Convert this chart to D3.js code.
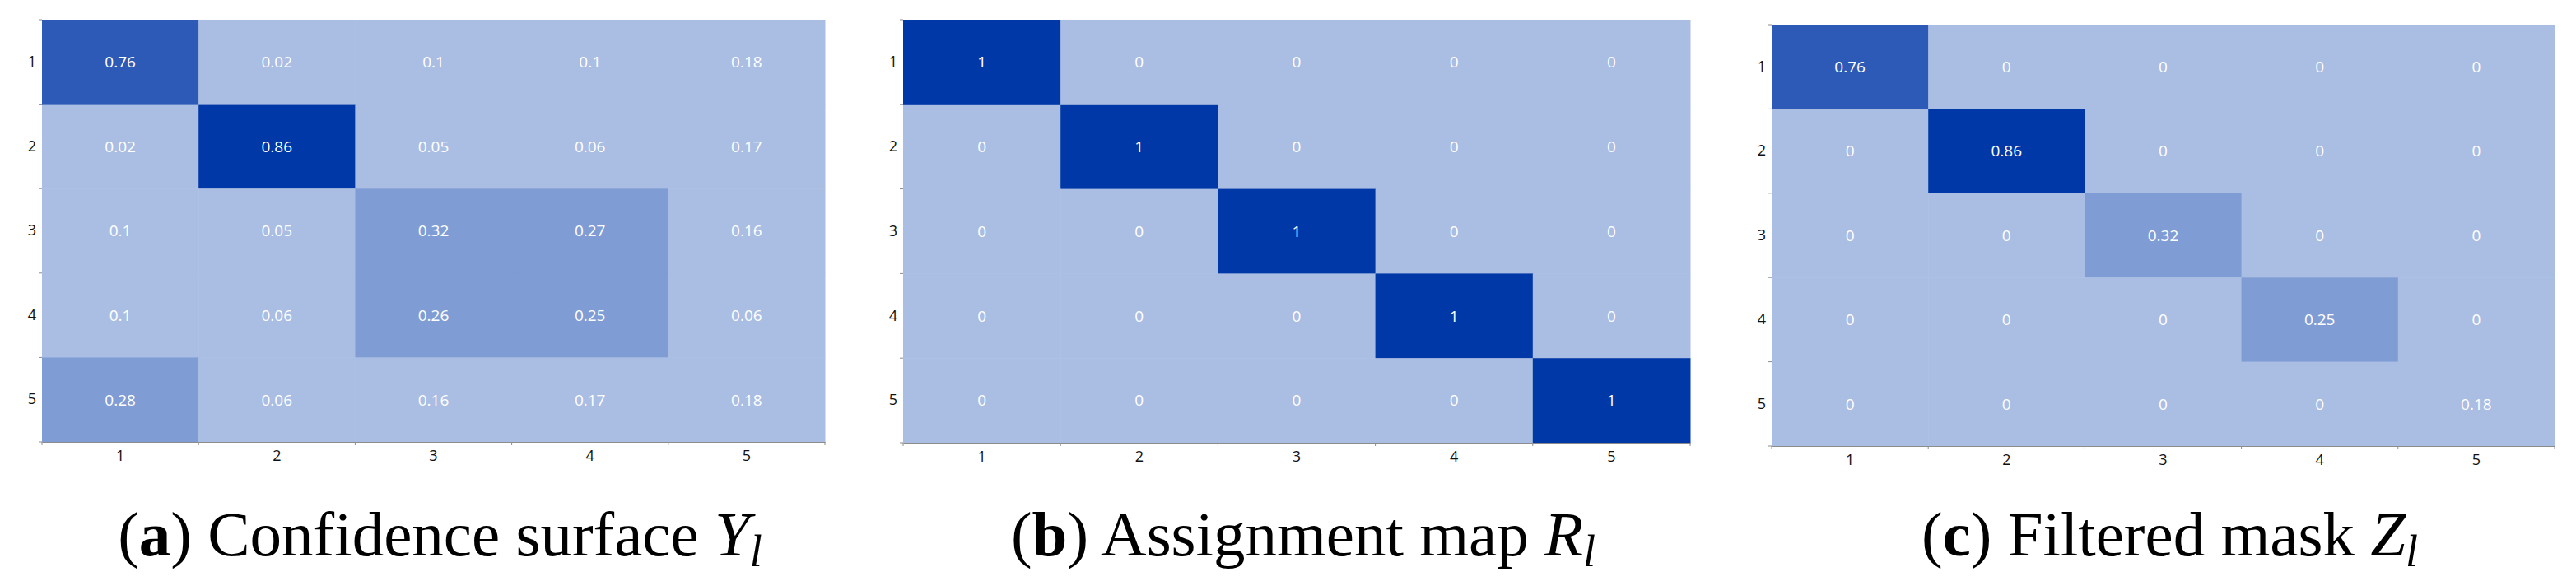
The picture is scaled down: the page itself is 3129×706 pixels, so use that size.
<!DOCTYPE html>
<html>
<head>
<meta charset="utf-8">
<script src="https://cdn.jsdelivr.net/npm/d3@7"></script>
<style>
  body { margin: 0; background: #fff; }
  svg { display: block; }
</style>
</head>
<body>
<svg id="fig" width="3129" height="706"></svg>
<script>
// row / column categories (same for all three panels)
const rows = ["1", "2", "3", "4", "5"];
const cols = ["1", "2", "3", "4", "5"];

// (a) confidence surface
const confidence = [
  [0.76, 0.02, 0.1, 0.1, 0.18],
  [0.02, 0.86, 0.05, 0.06, 0.17],
  [0.1, 0.05, 0.32, 0.27, 0.16],
  [0.1, 0.06, 0.26, 0.25, 0.06],
  [0.28, 0.06, 0.16, 0.17, 0.18]
];

// (b) assignment map
const assignment = [
  [1, 0, 0, 0, 0],
  [0, 1, 0, 0, 0],
  [0, 0, 1, 0, 0],
  [0, 0, 0, 1, 0],
  [0, 0, 0, 0, 1]
];

// (c) filtered mask
const filtered = [
  [0.76, 0, 0, 0, 0],
  [0, 0.86, 0, 0, 0],
  [0, 0, 0.32, 0, 0],
  [0, 0, 0, 0.25, 0],
  [0, 0, 0, 0, 0.18]
];

const captionLetters = ["a", "b", "c"];
const captionTexts = ["Confidence surface", "Assignment map", "Filtered mask"];
const captionSymbols = ["Y", "R", "Z"];

// stepped colour bands like the original
const color = d3.scaleThreshold()
  .domain([0.2, 0.5, 0.8])
  .range(["#aabde3", "#7f9dd4", "#2c5ab6", "#0038a7"]);

const svg = d3.select('#fig');

const panels = [
  { data: confidence, left: 51, right: 1002, top: 24, bottom: 537 },
  { data: assignment, left: 1097, right: 2053, top: 24, bottom: 538 },
  { data: filtered, left: 2152, right: 3103, top: 30, bottom: 542 }
];

panels.forEach(function(p, i) {
  const x = d3.scaleBand().domain(cols).range([p.left, p.right]);
  const y = d3.scaleBand().domain(rows).range([p.top, p.bottom]);

  const g = svg.append("g");

  const cells = [];
  p.data.forEach(function(r, ri) {
    r.forEach(function(v, ci) { cells.push({ row: rows[ri], col: cols[ci], v: v }); });
  });

  g.selectAll("rect").data(cells).join("rect")
    .attr("x", d => x(d.col))
    .attr("y", d => y(d.row))
    .attr("width", x.bandwidth() + 0.5)
    .attr("height", y.bandwidth() + 0.5)
    .attr("fill", d => color(d.v));

  g.selectAll("text.val").data(cells).join("text")
    .attr("class", "val")
    .attr("x", d => x(d.col) + x.bandwidth() / 2)
    .attr("y", d => y(d.row) + y.bandwidth() / 2)
    .attr("dy", "0.36em")
    .attr("text-anchor", "middle")
    .attr("fill", "#fff")
    .style("font-family", "'Open Sans', 'Noto Sans', sans-serif")
    .style("font-size", "19px")
    .text(d => d.v);

  // axes: ticks sit on the category boundaries
  const xAxis = d3.axisBottom(x).tickSize(0).tickPadding(10);
  const gx = svg.append("g").attr('transform', `translate(0, ${p.bottom})`).call(xAxis);
  const yAxis = d3.axisLeft(y).tickSize(0).tickPadding(7);
  const gy = svg.append("g").attr('transform', `translate(${p.left}, 0)`).call(yAxis);
  gx.select(".domain").attr("stroke", "#8c8c8c").attr("stroke-width", 1);
  gy.select(".domain").remove();
  [gx, gy].forEach(function(a) {
    a.selectAll("text")
      .attr("fill", "#111")
      .style("font-family", "'Open Sans', 'Noto Sans', sans-serif")
      .style("font-size", "18px");
  });
  // boundary tick marks
  const xb = cols.map(c => x(c)).concat([p.right]);
  gx.selectAll("line.b").data(xb).join("line").attr("class", "b")
    .attr("x1", d => d).attr("x2", d => d).attr("y1", 0).attr("y2", 4)
    .attr("stroke", "#8c8c8c");
  const yb = rows.map(r => y(r)).concat([p.bottom]);
  gy.selectAll("line.b").data(yb).join("line").attr("class", "b")
    .attr("y1", d => d).attr("y2", d => d).attr("x1", -4).attr("x2", 0)
    .attr("stroke", "#8c8c8c");

  // caption
  const cap = svg.append("text")
    .attr("x", (p.left + p.right) / 2 + 8)
    .attr("y", 675)
    .attr("text-anchor", "middle")
    .attr("fill", "#000")
    .style("font-family", "'Liberation Serif', 'DejaVu Serif', serif")
    .style("font-size", "77px");
  cap.append("tspan").text("(");
  cap.append("tspan").attr("font-weight", "bold").text(captionLetters[i]);
  cap.append("tspan").text(") " + captionTexts[i] + " ");
  cap.append("tspan").attr("font-style", "italic").text(captionSymbols[i]);
  cap.append("tspan").attr("font-style", "italic").attr("font-size", "54px").attr("dy", 13).text("l");
});
</script>
</body>
</html>
